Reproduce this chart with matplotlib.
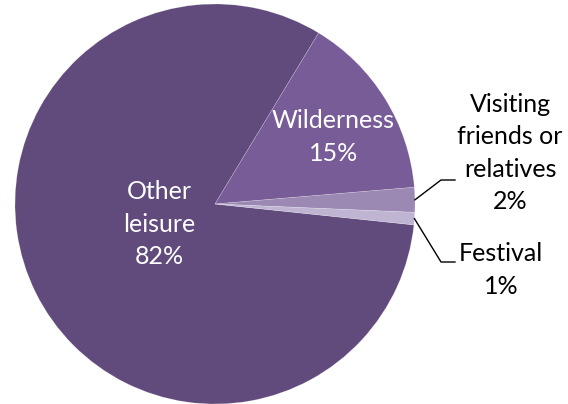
import numpy as np
import matplotlib
matplotlib.use("Agg")
import matplotlib.pyplot as plt

# data
labels = ["Other\nleisure", "Wilderness", "Visiting\nfriends or\nrelatives", "Festival"]
shares = [82, 15, 2, 1]
colors = ["#604b7c", "#775c97", "#9b88b3", "#c0b4d3"]

plt.rcParams['font.family'] = ['Lato', 'DejaVu Sans']

fig = plt.figure(figsize=(5.68, 4.04), dpi=100)
ax = fig.add_axes([0, 0, 1, 1])

# pie centre (215, 204) px, radius 200 px
cx, cy, r = 215, 204, 200

wedges, _ = ax.pie(shares, colors=colors, startangle=-6, counterclock=False,
                   radius=1, center=(0, 0), frame=True,
                   wedgeprops=dict(linewidth=0.4, edgecolor=(1, 1, 1, 0.3)))
ax.set_xlim(-cx / r, (568 - cx) / r)
ax.set_ylim(-(404 - cy) / r, cy / r)
ax.set_aspect("auto")
ax.axis("off")

def mid(w):
    return np.deg2rad((w.theta1 + w.theta2) / 2)

fs = 18
ls = 1.5
# inside labels
for w, lab, val, rr, da in [(wedges[0], labels[0], shares[0], 0.295, -6.5),
                            (wedges[1], labels[1], shares[1], 0.68, -2.2)]:
    a = mid(w) + np.deg2rad(da)
    ax.text(rr * np.cos(a), rr * np.sin(a), f"{lab}\n{val}%", color="white",
            ha="center", va="center", fontsize=fs, linespacing=ls)

# outside labels with leader lines
for w, lab, val, tx, ty, ky in [(wedges[2], labels[2], shares[2], 1.475, 0.255, 0.12),
                                (wedges[3], labels[3], shares[3], 1.43, -0.33, -0.29)]:
    a = mid(w)
    x0, y0 = np.cos(a), np.sin(a)
    ax.plot([x0, 1.13, 1.2], [y0, ky, ky], color="black", lw=1.0)
    ax.text(tx, ty, f"{lab}\n{val}%", color="black", ha="center", va="center",
            fontsize=fs, linespacing=ls)

fig.savefig("out.png", dpi=100)
